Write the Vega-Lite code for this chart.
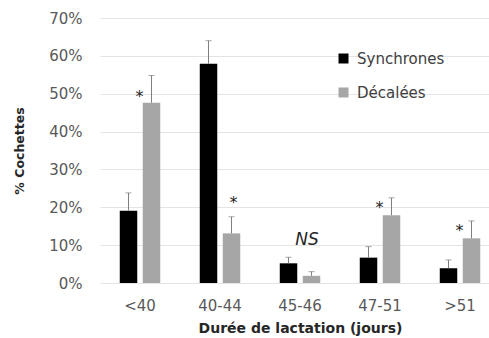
{
  "$schema": "https://vega.github.io/schema/vega-lite/v6.json",
  "width": 389,
  "height": 265,
  "autosize": "none",
  "padding": {"left": 100, "top": 18, "right": 0, "bottom": 55},
  "background": "white",
  "config": {
    "view": {"stroke": null},
    "font": "DejaVu Sans",
    "axisY": {
      "titleFont": "DejaVu Sans",
      "titleFontWeight": "bold",
      "titleFontSize": 12.5,
      "titleColor": "#262626",
      "titleX": -74,
      "tickCount": 8,
      "labelExpr": "datum.value + '%'",
      "labelOverlap": false,
      "labelFontSize": 15,
      "labelColor": "#595959",
      "labelPadding": 18,
      "ticks": false,
      "domain": false,
      "grid": true,
      "gridColor": "#e4e4e4",
      "gridWidth": 1
    }
  },
  "datasets": {
    "bars": [
      {"category": "<40", "group": "Synchrones", "value": 19.1, "upper": 23.8},
      {"category": "<40", "group": "Décalées", "value": 47.6, "upper": 54.8},
      {"category": "40-44", "group": "Synchrones", "value": 57.9, "upper": 64.0},
      {"category": "40-44", "group": "Décalées", "value": 13.1, "upper": 17.5},
      {"category": "45-46", "group": "Synchrones", "value": 5.2, "upper": 6.8},
      {"category": "45-46", "group": "Décalées", "value": 1.9, "upper": 3.0},
      {"category": "47-51", "group": "Synchrones", "value": 6.7, "upper": 9.6},
      {"category": "47-51", "group": "Décalées", "value": 17.9, "upper": 22.5},
      {"category": ">51", "group": "Synchrones", "value": 3.9, "upper": 6.1},
      {"category": ">51", "group": "Décalées", "value": 11.8, "upper": 16.4}
    ],
    "stars": [
      {"category": "<40", "group": "Décalées", "label": "*", "pos": 49.1},
      {"category": "47-51", "group": "Décalées", "label": "*", "pos": 19.9},
      {"category": ">51", "group": "Décalées", "label": "*", "pos": 13.7}
    ],
    "stars2": [
      {"category": "40-44", "group": "Décalées", "label": "*", "pos": 21.2}
    ],
    "ns": [
      {"category": "45-46", "label": "NS", "pos": 11.3}
    ]
  },
  "encoding": {
    "x": {
      "field": "category",
      "type": "nominal",
      "sort": ["<40", "40-44", "45-46", "47-51", ">51"],
      "scale": {"range": [0, 400], "paddingInner": 0.494, "paddingOuter": 0.247},
      "axis": {
        "title": "Durée de lactation (jours)",
        "titleFont": "DejaVu Sans",
        "titleFontWeight": "bold",
        "titleFontSize": 14,
        "titleColor": "#262626",
        "titleX": 200,
        "titlePadding": 8,
        "labelAngle": 0,
        "labelFontSize": 15,
        "labelColor": "#595959",
        "labelPadding": 15,
        "ticks": false,
        "domain": false
      }
    }
  },
  "layer": [
    {
      "data": {"name": "bars"},
      "mark": {"type": "bar"},
      "encoding": {
        "xOffset": {
          "field": "group",
          "type": "nominal",
          "scale": {"domain": ["Synchrones", "Décalées"], "paddingInner": 0.239, "paddingOuter": 0}
        },
        "y": {
          "field": "value",
          "type": "quantitative",
          "scale": {"domain": [0, 70], "nice": false},
          "axis": {"title": "% Cochettes", "values": [0, 10, 20, 30, 40, 50, 60, 70]}
        },
        "color": {
          "field": "group",
          "type": "nominal",
          "scale": {"domain": ["Synchrones", "Décalées"], "range": ["#000000", "#a6a6a6"]},
          "legend": {
            "title": null,
            "orient": "none",
            "legendX": 236,
            "legendY": 33,
            "symbolType": "square",
            "symbolSize": 100,
            "symbolStrokeWidth": 0,
            "labelFontSize": 15,
            "labelColor": "#404040",
            "labelOffset": 6,
            "rowPadding": 18
          }
        }
      }
    },
    {
      "data": {"name": "bars"},
      "mark": {"type": "rule", "color": "#7f7f7f", "strokeWidth": 1},
      "encoding": {
        "xOffset": {"field": "group", "type": "nominal"},
        "y": {"field": "value", "type": "quantitative"},
        "y2": {"field": "upper"}
      }
    },
    {
      "data": {"name": "bars"},
      "mark": {"type": "tick", "color": "#7f7f7f", "thickness": 1, "size": 6, "orient": "horizontal"},
      "encoding": {
        "xOffset": {"field": "group", "type": "nominal"},
        "y": {"field": "upper", "type": "quantitative"}
      }
    },
    {
      "data": {"name": "stars"},
      "mark": {"type": "text", "fontSize": 16, "color": "#262626", "dx": -12, "baseline": "middle"},
      "encoding": {
        "xOffset": {"field": "group", "type": "nominal"},
        "y": {"field": "pos", "type": "quantitative"},
        "text": {"field": "label"}
      }
    },
    {
      "data": {"name": "stars2"},
      "mark": {"type": "text", "fontSize": 16, "color": "#262626", "dx": 2, "baseline": "middle"},
      "encoding": {
        "xOffset": {"field": "group", "type": "nominal"},
        "y": {"field": "pos", "type": "quantitative"},
        "text": {"field": "label"}
      }
    },
    {
      "data": {"name": "ns"},
      "mark": {"type": "text", "fontSize": 17, "fontStyle": "italic", "color": "#262626", "dx": 7, "baseline": "middle"},
      "encoding": {
        "y": {"field": "pos", "type": "quantitative"},
        "text": {"field": "label"}
      }
    }
  ]
}
